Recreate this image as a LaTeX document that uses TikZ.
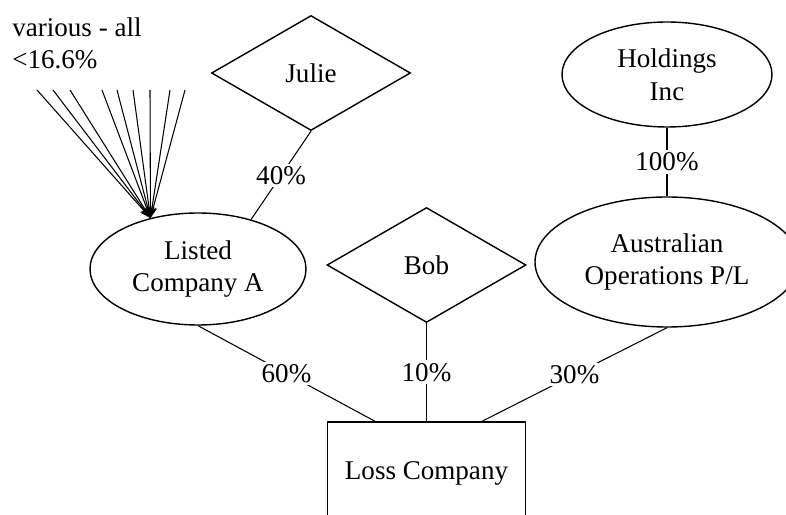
\documentclass[tikz,border=0pt]{standalone}
\usepackage{fontspec}
\setmainfont{Liberation Serif}
\usetikzlibrary{arrows.meta,shapes.geometric}

\begin{document}
\begin{tikzpicture}[x=1cm,y=1cm,
  font=\fontsize{15.4}{18.5}\selectfont,
  ownellipse/.style={ellipse,draw,line width=0.8pt,inner sep=0pt,align=center},
  owndiamond/.style={diamond,draw,line width=0.8pt,inner sep=0pt,minimum width=3.98cm,minimum height=2.3cm},
  ownbox/.style={rectangle,draw,line width=0.8pt,minimum width=3.96cm,minimum height=2.04cm},
  ownline/.style={line width=0.6pt},
  pct/.style={fill=white,inner sep=1.5pt}]
  \fill[white] (0,0) rectangle (15.72,10.3);
  \path[use as bounding box] (0,0) rectangle (15.72,10.3);
  \clip (0,0) rectangle (15.72,10.3);

  \node[owndiamond] (julie) at (6.22,8.84) {Julie};
  \node[owndiamond] (bob) at (8.53,5.0) {Bob};
  \node[ownellipse,minimum width=4.2cm,minimum height=2.1cm] (holdings) at (13.34,8.81) {Holdings\\Inc};
  \node[ownellipse,minimum width=5.28cm,minimum height=2.6cm] (aus) at (13.34,5.06) {Australian\\Operations P/L};
  \node[ownellipse,minimum width=4.32cm,minimum height=2.24cm] (listed) at (3.96,4.92) {Listed\\Company A};
  % the box runs off the bottom edge of the picture
  \node[ownbox] (loss) at (8.53,0.84) {Loss Company};
  \node[anchor=north west,align=left,inner sep=0pt] (various) at (0.24,9.96) {various - all\\<16.6\%};

  % many small holders, all pointing at the listed company
  \coordinate (fanend) at (listed.133);
  \foreach \x [count=\i] in {0.74,1.06,1.40,2.04,2.34,2.66,3.00,3.40,3.70}
    {\coordinate (fan\i) at (\x,8.5);
     \draw[ownline,-{Stealth[length=2.2mm,width=1.6mm]}] (fan\i) -- (fanend);}

  \draw[ownline] (julie.south) -- node[pct] {40\%} (listed.43);
  \draw[ownline] (holdings.south) -- node[pct] {100\%} (aus.north);
  \draw[ownline] (listed.south) -- node[pct] {60\%} ([xshift=-1.03cm]loss.north);
  \draw[ownline] (bob.south) -- node[pct] {10\%} (loss.north);
  \draw[ownline] (aus.south) -- node[pct] {30\%} ([xshift=1.11cm]loss.north);
\end{tikzpicture}
\end{document}
